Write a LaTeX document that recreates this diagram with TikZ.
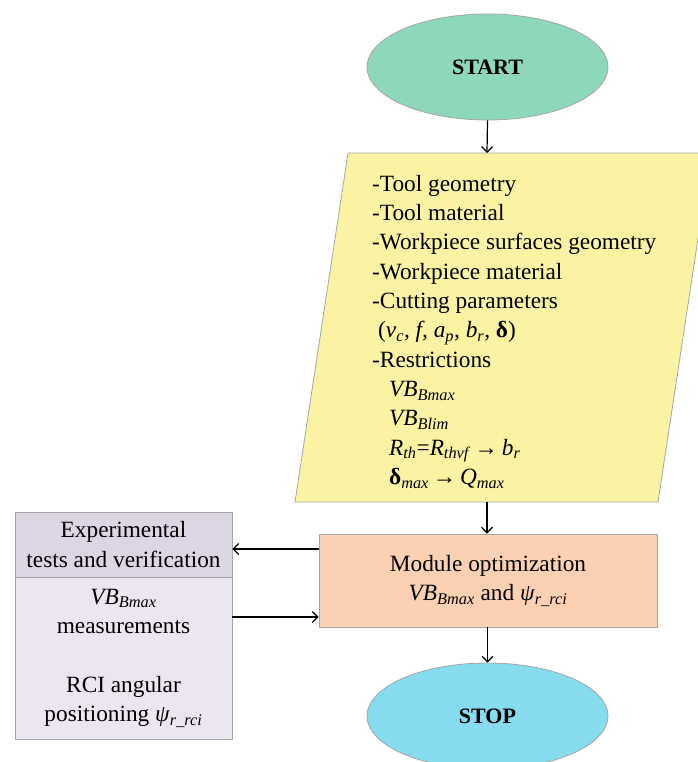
\documentclass[tikz,border=0pt]{standalone}
\usepackage{fontspec}
\setmainfont{Liberation Serif}
\usetikzlibrary{shapes.geometric,arrows.meta,calc}
\definecolor{startgreen}{RGB}{141,216,187}
\definecolor{inyellow}{RGB}{250,243,163}
\definecolor{modpeach}{RGB}{252,208,178}
\definecolor{lavtop}{RGB}{220,214,228}
\definecolor{lavbot}{RGB}{236,230,240}
\definecolor{stopcyan}{RGB}{134,220,238}
\definecolor{edgegray}{RGB}{165,165,165}
\newcommand{\isub}[2]{\textit{#1}\textsubscript{\textit{#2}}}
\begin{document}
\begin{tikzpicture}[x=1pt,y=-1pt,
  txt/.style={font=\fontsize{23.3}{29.3}\selectfont},
  oval/.style={ellipse, draw=edgegray, line width=0.8pt, inner sep=0pt,
    minimum width=241pt, minimum height=106pt, font=\fontsize{22}{29.3}\selectfont\bfseries},
  box/.style={rectangle, draw=edgegray, line width=0.8pt, inner sep=0pt, align=center, txt},
  arr/.style={-{Straight Barb[length=5.5pt,width=11pt]}, line width=1.2pt, black}]
\useasboundingbox (0,0) rectangle (697,762);
% START
\node[oval, fill=startgreen] (start) at (487.5,67) {START};
% input parallelogram
\path[fill=inyellow, draw=edgegray, line width=0.8pt]
  (348,153) -- (711,153) -- (658,502) -- (295,502) -- cycle;
\coordinate (intop) at (487,153);
\coordinate (inbot) at (487,502);
\node[txt, anchor=north west, inner sep=0pt, align=left] (intext) at (372,175) {%
-Tool geometry\\
-Tool material\\
-Workpiece surfaces geometry\\
-Workpiece material\\
-Cutting parameters\\
\hspace{6pt}(\isub{v}{c}\textit{, f, }\isub{a}{p}\textit{, }\isub{b}{r}\textit{, }\textbf{δ})\\
-Restrictions\\
\hspace{17pt}\isub{VB}{Bmax}\\
\hspace{17pt}\isub{VB}{Blim}\\
\hspace{17pt}\isub{R}{th}=\isub{R}{thvf}\,→\,\isub{b}{r}\\
\hspace{17pt}\textbf{δ}\textsubscript{\textit{max}}\,→\,\isub{Q}{max}};
% module optimization
\node[box, fill=modpeach, minimum width=338pt, minimum height=93pt] (module) at (488,580.5)
  {Module optimization\\ \isub{VB}{Bmax} and \isub{ψ}{r\_rci}};
% left boxes
\node[box, fill=lavtop, minimum width=217pt, minimum height=65pt] (exp) at (123.5,544.5)
  {Experimental\\ tests and verification};
\node[box, fill=lavbot, minimum width=217pt, minimum height=162pt] (meas) at (123.5,658)
  {\isub{VB}{Bmax}\\ measurements\\[29.3pt] RCI angular\\ positioning \isub{ψ}{r\_rci}};
% STOP
\node[oval, fill=stopcyan] (stop) at (487.5,716) {STOP};
% connectors
\coordinate (ya) at (0,549);
\coordinate (yb) at (0,617);
\draw[arr] (start.south) -- (intop);
\draw[arr] (inbot) -- (module.north -| inbot);
\draw[arr] (module.west |- ya) -- (exp.east |- ya);
\draw[arr] (meas.east |- yb) -- (module.west |- yb);
\draw[arr] (module.south -| stop.north) -- (stop.north);
\end{tikzpicture}
\end{document}
